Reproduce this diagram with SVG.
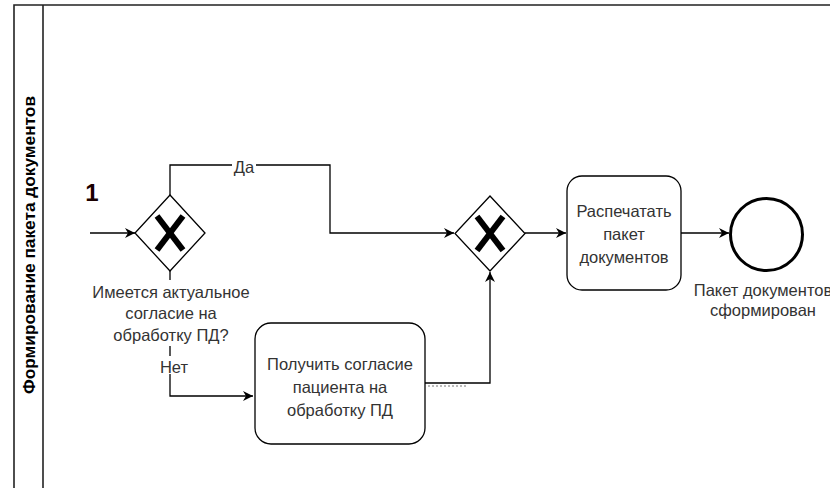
<svg xmlns="http://www.w3.org/2000/svg" width="830" height="488" viewBox="0 0 830 488">
  <defs>
    <marker id="arrow" viewBox="0 0 10 10" refX="10" refY="5" markerWidth="10" markerHeight="10" markerUnits="userSpaceOnUse" orient="auto">
      <path d="M0,0 L10,5 L0,10 L3,5 Z" fill="#000"/>
    </marker>
    <style>
      .lane { fill: none; stroke: #222; stroke-width: 1.6; }
      .flow { fill: none; stroke: #000; stroke-width: 1.3; }
      .gw { fill: #fff; stroke: #000; stroke-width: 1.3; }
      .gwx { stroke: #000; stroke-width: 6; stroke-linecap: butt; }
      .task { fill: #fff; stroke: #000; stroke-width: 1.3; }
      .lbl { font-family: "Liberation Sans", Arial, sans-serif; font-size: 16.5px; fill: #333; text-anchor: middle; }
      .pool { font-family: "Liberation Sans", Arial, sans-serif; font-size: 16px; font-weight: bold; fill: #000; text-anchor: middle; }
    </style>
  </defs>

  <rect width="830" height="488" fill="#fff"/>

  <!-- pool -->
  <g id="pool">
    <path class="lane" d="M14,500 V5 H832"/>
    <line class="lane" x1="43" y1="5" x2="43" y2="500"/>
    <text class="pool" transform="translate(34.5,245) rotate(-90)" textLength="298" lengthAdjust="spacingAndGlyphs">Формирование пакета документов</text>
  </g>

  <!-- connectors -->
  <g id="connectors">
    <line class="flow" x1="90" y1="233" x2="135" y2="233" marker-end="url(#arrow)"/>
    <path class="flow" d="M170,196 V165 H330 V233 H454" marker-end="url(#arrow)"/>
    <path class="flow" d="M170,270 V396 H253" marker-end="url(#arrow)"/>
    <path class="flow" d="M425,383 H490 V272" marker-end="url(#arrow)"/>
    <line class="flow" x1="525" y1="233" x2="566" y2="233" marker-end="url(#arrow)"/>
    <line class="flow" x1="681" y1="233" x2="729" y2="233" marker-end="url(#arrow)"/>
    <line x1="428" y1="386" x2="466" y2="386" stroke="#777" stroke-width="1" stroke-dasharray="2,2"/>
    <!-- flow labels -->
    <rect x="232" y="158" width="24" height="16" fill="#fff"/>
    <text class="lbl" x="244" y="173">Да</text>
    <rect x="160" y="356" width="30" height="18" fill="#fff"/>
    <text class="lbl" x="174" y="373">Нет</text>
  </g>

  <!-- start marker -->
  <g id="marker1">
    <text x="92" y="201" font-family="'Liberation Sans', Arial, sans-serif" font-size="24" font-weight="bold" fill="#1a0000" text-anchor="middle">1</text>
  </g>

  <!-- gateway: consent check -->
  <g id="gateway1">
    <path class="gw" d="M170,195 L205,233 L170,271 L135,233 Z"/>
    <line class="gwx" x1="157" y1="216" x2="183" y2="250"/>
    <line class="gwx" x1="183" y1="216" x2="157" y2="250"/>
    <rect x="86" y="280" width="170" height="66" fill="#fff"/>
    <text class="lbl" x="171" y="298">Имеется актуальное</text>
    <text class="lbl" x="171" y="319">согласие на</text>
    <text class="lbl" x="171" y="341">обработку ПД?</text>
  </g>

  <!-- gateway: merge -->
  <g id="gateway2">
    <path class="gw" d="M490,196 L525,233.5 L490,271 L455,233.5 Z"/>
    <line class="gwx" x1="477" y1="216.5" x2="503" y2="250.5"/>
    <line class="gwx" x1="503" y1="216.5" x2="477" y2="250.5"/>
  </g>

  <!-- task: obtain consent -->
  <g id="task-consent">
    <rect class="task" x="255" y="323" width="170" height="121" rx="16" ry="16"/>
    <text class="lbl" x="340" y="370">Получить согласие</text>
    <text class="lbl" x="340" y="393">пациента на</text>
    <text class="lbl" x="340" y="416">обработку ПД</text>
  </g>

  <!-- task: print package -->
  <g id="task-print">
    <rect class="task" x="567" y="176" width="114" height="114" rx="15" ry="15"/>
    <text class="lbl" x="624" y="217">Распечатать</text>
    <text class="lbl" x="624" y="240">пакет</text>
    <text class="lbl" x="624" y="263">документов</text>
  </g>

  <!-- end event -->
  <g id="end-event">
    <circle cx="766.5" cy="234.5" r="36" fill="#fff" stroke="#000" stroke-width="3"/>
    <text class="lbl" x="763" y="296">Пакет документов</text>
    <text class="lbl" x="763" y="316">сформирован</text>
  </g>
</svg>
